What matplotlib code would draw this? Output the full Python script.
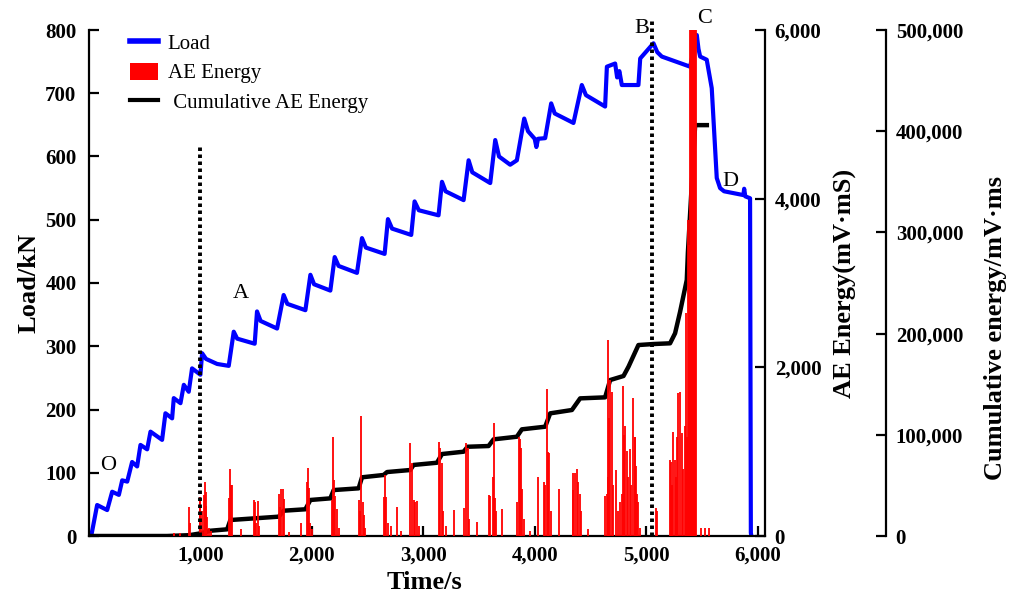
import matplotlib
matplotlib.use("Agg")
import matplotlib.pyplot as plt
from matplotlib.lines import Line2D
from matplotlib.patches import Patch
from matplotlib.ticker import FuncFormatter, FixedLocator

plt.rcParams['font.family'] = ['Liberation Serif', 'DejaVu Serif']

# ---------------- data ----------------
load_t = [20, 73, 163, 208, 268, 298, 343, 387, 432, 462, 522, 552, 656, 686, 746, 761, 821, 851, 895,
          925, 1000, 1015, 1050, 1150, 1254, 1299, 1330, 1487, 1508, 1540, 1688, 1747, 1780, 1942,
          1987, 2020, 2166, 2205, 2240, 2405, 2450, 2485, 2653, 2683, 2720, 2892, 2922, 2960, 3137,
          3168, 3200, 3362, 3407, 3440, 3601, 3646, 3680, 3780, 3840, 3906, 3940, 4000, 4015, 4030,
          4094, 4148, 4180, 4348, 4423, 4460, 4632, 4648, 4722, 4740, 4760, 4782, 4931, 4947, 5066,
          5100, 5141, 5395, 5455, 5470, 5485, 5544, 5589, 5634, 5664, 5700, 5873, 5880, 5890, 5933,
          5940, 5945]
load_kn = [0, 49, 41, 70, 65, 88, 86, 117, 110, 144, 137, 165, 152, 194, 186, 218, 210, 239, 228,
           265, 255, 289, 280, 272, 269, 323, 312, 304, 355, 340, 328, 381, 367, 357,
           413, 398, 388, 441, 427, 416, 471, 456, 446, 501, 486, 476, 529, 515, 507,
           560, 545, 531, 594, 575, 558, 626, 600, 587, 594, 660, 640, 628, 615, 628,
           629, 684, 668, 653, 713, 697, 679, 742, 747, 725, 735, 713, 713, 755, 779,
           765, 758, 742, 792, 770, 758, 753, 708, 566, 550, 545, 539, 549, 537, 534,
           5, 0]

ae_t = [760, 820, 895, 910, 995, 1000, 1015, 1030, 1039, 1046, 1054, 1062, 1075, 1095,
        1254, 1263, 1275, 1284, 1368,
        1484, 1493, 1500, 1514, 1530,
        1703, 1718, 1727, 1739, 1748, 1793,
        1903, 1957, 1966, 1978, 1987, 2005,
        2181, 2187, 2196, 2211, 2226, 2245,
        2426, 2435, 2444, 2459, 2468, 2480,
        2650, 2655, 2662, 2680, 2710, 2764, 2800,
        2883, 2898, 2913, 2928, 2943, 2960,
        3137, 3152, 3168, 3180, 3200, 3272,
        3368, 3386, 3398, 3410, 3482,
        3590, 3601, 3622, 3631, 3640, 3655, 3711,
        3845, 3855, 3864, 3876, 3885, 3900, 3960,
        4034, 4085, 4094, 4109, 4120, 4130, 4150, 4214,
        4340, 4348, 4363, 4378, 4393, 4408, 4420, 4480,
        4632, 4645, 4655, 4662, 4670, 4677, 4692, 4705, 4731, 4750, 4767, 4780, 4797, 4803,
        4812, 4827, 4840, 4851, 4865, 4881, 4896, 4901, 4911, 4920, 4931, 4945,
        5087, 5096,
        5215, 5224, 5235, 5245, 5255, 5265, 5275, 5290, 5305, 5320, 5335, 5350, 5356, 5365,
        5375, 5385, 5395, 5400, 5405, 5410, 5415, 5420, 5425, 5430, 5435, 5440, 5445,
        5490, 5530, 5560]
ae_e = [30, 40, 348, 150, 447, 466, 300, 486, 644, 355, 520, 220, 100, 60,
        447, 791, 605, 605, 80,
        427, 407, 150, 419, 120,
        498, 340, 554, 554, 440, 50,
        150, 637, 803, 570, 150, 80,
        427, 1170, 664, 480, 320, 100,
        427, 300, 1427, 400, 245, 90,
        466, 720, 466, 150, 120, 348, 60,
        1099, 862, 427, 400, 420, 120,
        1118, 1040, 870, 300, 120, 308,
        328, 1099, 1040, 200, 170,
        487, 480, 700, 1344, 450, 300, 320,
        400, 1170, 1146, 1040, 560, 200, 60,
        703, 640, 600, 1740, 1000, 980, 300, 553,
        550, 751, 743, 790, 640, 500, 300, 80,
        470, 500, 700, 2325, 1400, 1850, 1712, 600, 783, 300, 400, 500, 1779, 1200,
        1300, 1003, 700, 1028, 600, 1633, 1178, 1178, 830, 500, 400, 100,
        328, 300,
        901, 881, 600, 1237, 900, 700, 1178, 1700, 1712, 1218, 800, 1300, 2640, 1178,
        3750, 3450, 7000, 7000, 7000, 7000, 7000, 7000, 7000, 7000, 7000, 7000, 7000,
        100, 100, 100]

cum_t = [0, 700, 900, 1000, 1090, 1240, 1269, 1703, 1747, 1942, 1987, 2166, 2196, 2420, 2450,
         2644, 2675, 2883, 2913, 3123, 3168, 3362, 3398, 3586, 3631, 3840, 3885, 4094, 4139,
         4334, 4408, 4632, 4677, 4797, 4842, 4931, 5066, 5215, 5260, 5305, 5365, 5375, 5440, 5545]
cum_e = [0, 0, 800, 2600, 5200, 6600, 15800, 19100, 25000, 26400, 35600, 37200, 45400, 47100,
         58000, 60300, 63200, 65200, 70200, 72400, 81000, 83300, 88200, 88900, 95500, 98100,
         105400, 108000, 121200, 124500, 136000, 137000, 154100, 158100, 167300, 188700,
         189700, 190400, 200300, 221600, 253000, 280000, 406000, 406000]

x_ticks = [1000, 2000, 3000, 4000, 5000, 6000]
load_ticks = [0, 100, 200, 300, 400, 500, 600, 700, 800]
ae_ticks = [0, 2000, 4000, 6000]
cum_ticks = [0, 100000, 200000, 300000, 400000, 500000]

stage_t = [1000, 5055]
stage_top = [617, 816]
labels_txt = ['O', 'A', 'B', 'C', 'D']
labels_t = [175, 1359, 4962, 5529, 5753]
labels_l = [112, 384, 803, 818, 560]

# ---------------- figure ----------------
W, H = 1016, 593
AXW, AXH = 765 - 89, 536 - 30
fig = plt.figure(figsize=(W / 100, H / 100), dpi=100)
ax = fig.add_axes([89 / W, (H - 536) / H, AXW / W, AXH / H])
ax3 = ax.twinx()
ax2 = ax.twinx()

label_font = dict(fontsize=19, fontweight='bold')
comma = FuncFormatter(lambda v, p: f'{v:,.0f}')

# load
ax.plot(load_t, load_kn, color='#0000ff', lw=3.0, solid_joinstyle='round', zorder=2)
ax.set_xlim(0, 6067)
ax.set_ylim(0, 800)
ax.xaxis.set_major_locator(FixedLocator(x_ticks))
ax.xaxis.set_major_formatter(comma)
ax.yaxis.set_major_locator(FixedLocator(load_ticks))
for s in ['top', 'right']:
    ax.spines[s].set_visible(False)

# cumulative
ax3.plot(cum_t, cum_e, color='black', lw=3.2, solid_joinstyle='round')
ax3.set_ylim(0, 500000)
ax3.yaxis.set_major_locator(FixedLocator(cum_ticks))
ax3.yaxis.set_major_formatter(comma)
ax3.spines['right'].set_position(('axes', 1 + 121 / AXW))
for s in ['top', 'left', 'bottom']:
    ax3.spines[s].set_visible(False)

# AE energy
ax2.vlines(ae_t, 0, ae_e, colors='#ff0000', lw=1.3)
ax2.set_ylim(0, 6000)
ax2.yaxis.set_major_locator(FixedLocator(ae_ticks))
ax2.yaxis.set_major_formatter(comma)
for s in ['top', 'left', 'bottom']:
    ax2.spines[s].set_visible(False)

for a in (ax, ax2, ax3):
    for sp in a.spines.values():
        sp.set_linewidth(1.6)
    a.tick_params(direction='in', length=7, width=1.6, pad=7)
    for t in a.get_xticklabels() + a.get_yticklabels():
        t.set_fontsize(15)
        t.set_fontweight('bold')
ax.tick_params(axis='y', pad=9)
ax.tick_params(axis='x', pad=7)

# stage dotted lines (on top)
for xt, yt in zip(stage_t, stage_top):
    ax2.plot([xt, xt], [0, yt], transform=ax.transData, color='black', lw=2.8,
             linestyle=(0, (0.9, 0.9)), clip_on=False, zorder=5)

for s, xt, yt in zip(labels_txt, labels_t, labels_l):
    ax2.text(xt, yt, s, transform=ax.transData, fontsize=16, ha='center', va='center',
             clip_on=False, zorder=6)

ax.set_xlabel('Time/s', **label_font, labelpad=0)
ax.xaxis.set_label_coords((424 - 89) / AXW, -(571 - 536) / AXH)
ax.set_ylabel('Load/kN', **label_font)
ax.yaxis.set_label_coords(-(89 - 40) / AXW, 0.5)
ax2.set_ylabel('AE Energy(mV·mS)', **label_font)
ax2.yaxis.set_label_coords((834 - 89) / AXW, 0.5)
ax3.set_ylabel('Cumulative energy/mV·ms', **label_font)
ax3.yaxis.set_label_coords((984 - 89) / AXW, (536 - 328) / AXH)

handles = [Line2D([], [], color='#0000ff', lw=4),
           Patch(facecolor='#ff0000', edgecolor='none'),
           Line2D([], [], color='black', lw=3)]
leg = ax2.legend(handles, ['Load', 'AE Energy', ' Cumulative AE Energy'],
                 loc='upper left', bbox_to_anchor=(130 / W, 1 - 33 / H),
                 bbox_transform=fig.transFigure, frameon=False, fontsize=15,
                 handlelength=1.35, handleheight=0.9, handletextpad=0.45,
                 labelspacing=0.42, borderpad=0, borderaxespad=0)

fig.savefig('out.png', dpi=100)
